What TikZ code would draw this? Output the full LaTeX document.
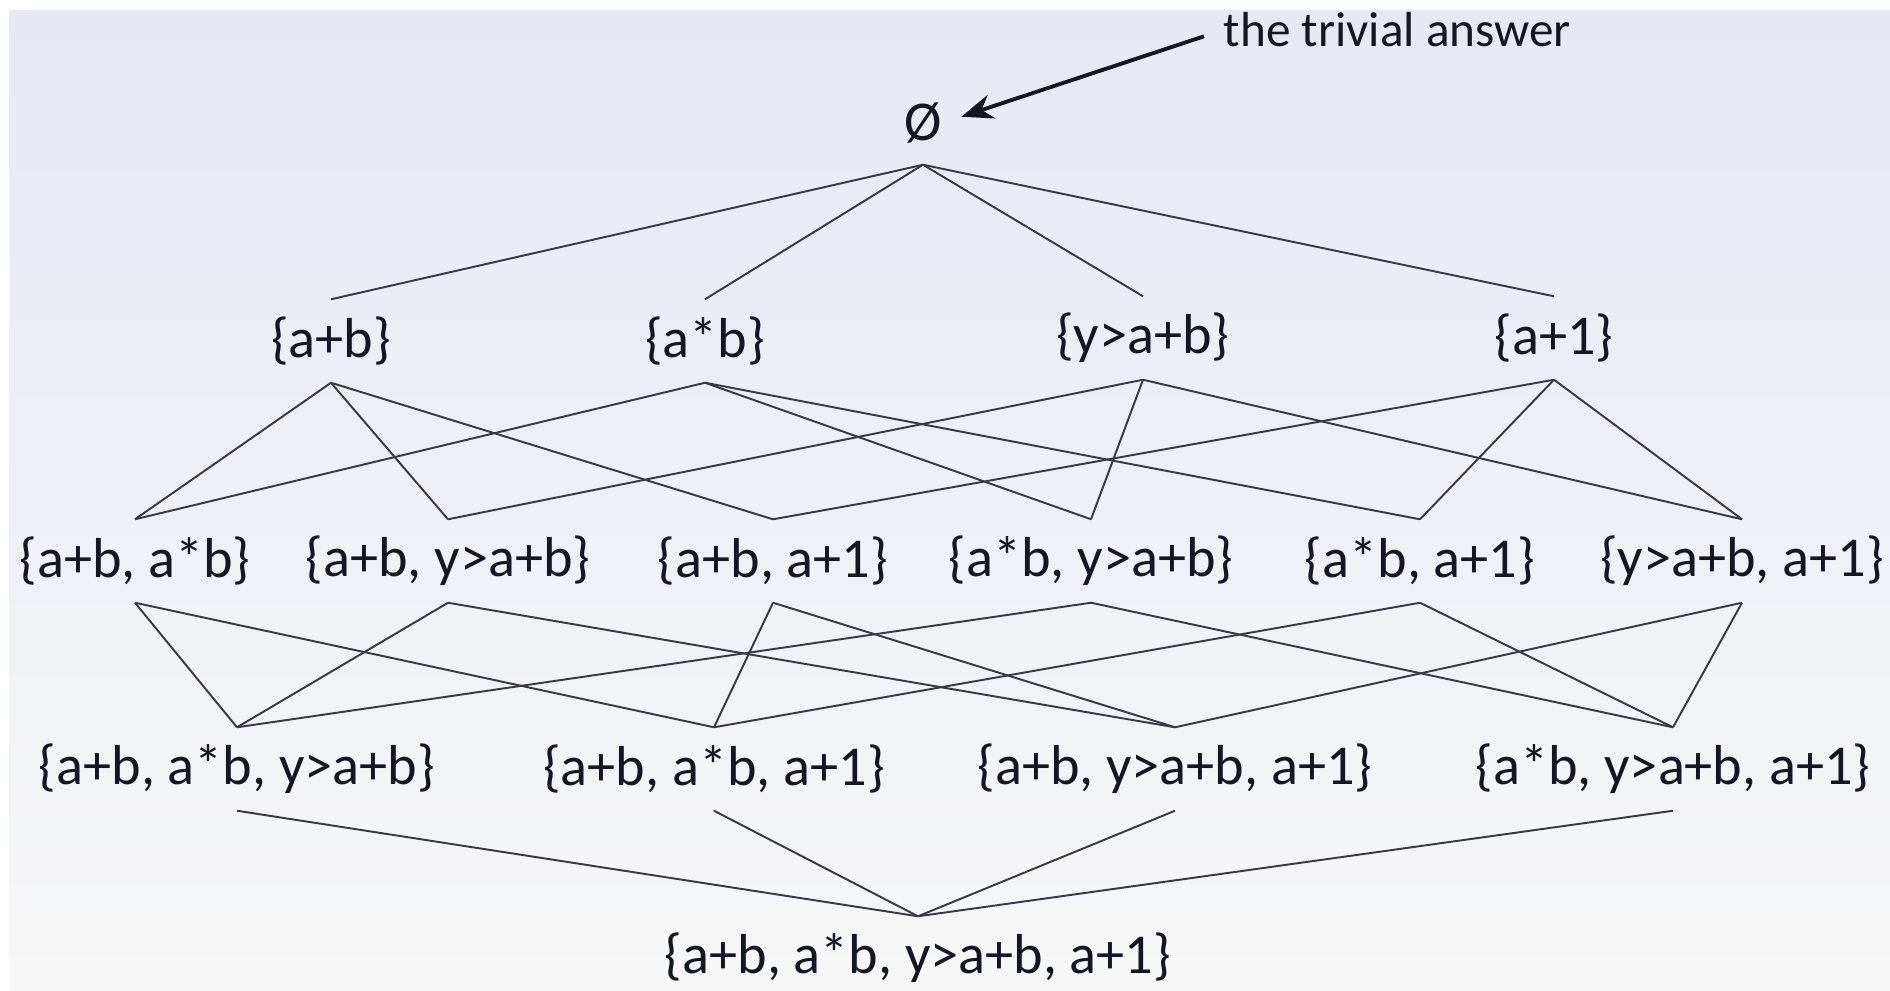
\documentclass[tikz,border=0pt]{standalone}
\usepackage{fontspec}
\setmainfont{Carlito}
\usetikzlibrary{arrows.meta}
\definecolor{bgtop}{RGB}{230,233,244}
\definecolor{bgmid}{RGB}{245,245,247}
\definecolor{bgbot}{RGB}{247,247,247}
\definecolor{ink}{RGB}{20,22,36}
\begin{document}
\begin{tikzpicture}[
	x=0.01cm, y=-0.01cm,
	s/.style = {inner sep=0, minimum height=0.82cm, text=ink, font=\fontsize{16}{18}\selectfont},
	e/.style = {draw=ink!85, line width=0.55pt},
	a/.style = {-{Stealth[length=9pt,width=7pt]}, draw=ink, line width=1.1pt, shorten <=0.2cm, shorten >=0.2cm}
	]
	
	%Background
	\useasboundingbox (0,0) rectangle (1890,990);
	\fill[white] (0,0) rectangle (1890,990);
	\shade[top color=bgtop, middle color=bgmid, bottom color=bgbot] (9,10) rectangle (1890,990);
	
	%Nodes
	\node[s]	(0)		at	(923, 123)	{Ø};
	\node[text=ink, inner sep=0, anchor=west, font=\fontsize{14}{16}\selectfont]	(ta)	at	(1223, 30)	{the trivial answer};
	
	\node[s]	(p)		at	(331, 341)	{\{a+b\}};
	\node[s]	(m)		at	(705, 341)	{\{a*b\}};
	\node[s]	(y)		at	(1143, 338)	{\{y>a+b\}};
	\node[s]	(o)		at	(1554, 338)	{\{a+1\}};
	
	\node[s]	(pm)	at	(135, 561)	{\{a+b, a*b\}};
	\node[s]	(py)	at	(448, 561)	{\{a+b, y>a+b\}};
	\node[s]	(po)	at	(773, 561)	{\{a+b, a+1\}};
	\node[s]	(my)	at	(1091, 561)	{\{a*b, y>a+b\}};
	\node[s]	(mo)	at	(1420, 561)	{\{a*b, a+1\}};
	\node[s]	(yo)	at	(1742, 561)	{\{y>a+b, a+1\}};
	
	\node[s]	(pmy)	at	(237, 769)	{\{a+b, a*b, y>a+b\}};
	\node[s]	(pmo)	at	(714, 769)	{\{a+b, a*b, a+1\}};
	\node[s]	(pyo)	at	(1175, 769)	{\{a+b, y>a+b, a+1\}};
	\node[s]	(myo)	at	(1673, 769)	{\{a*b, y>a+b, a+1\}};
	
	\node[s]	(pmyo)	at	(918, 958)	{\{a+b, a*b, y>a+b, a+1\}};
	
	%Lines
	\draw[a]	(ta.west)	to	(0.east);
	
	\draw[e]	(0.south)	--	(p.north);
	\draw[e]	(0.south)	--	(m.north);
	\draw[e]	(0.south)	--	(y.north);
	\draw[e]	(0.south)	--	(o.north);
	
	\draw[e]	(p.south)	--	(pm.north);
	\draw[e]	(p.south)	--	(py.north);
	\draw[e]	(p.south)	--	(po.north);
	\draw[e]	(m.south)	--	(pm.north);
	\draw[e]	(m.south)	--	(my.north);
	\draw[e]	(m.south)	--	(mo.north);
	\draw[e]	(y.south)	--	(py.north);
	\draw[e]	(y.south)	--	(my.north);
	\draw[e]	(y.south)	--	(yo.north);
	\draw[e]	(o.south)	--	(po.north);
	\draw[e]	(o.south)	--	(mo.north);
	\draw[e]	(o.south)	--	(yo.north);
	
	\draw[e]	(pm.south)	--	(pmy.north);
	\draw[e]	(pm.south)	--	(pmo.north);
	\draw[e]	(py.south)	--	(pmy.north);
	\draw[e]	(py.south)	--	(pyo.north);
	\draw[e]	(po.south)	--	(pmo.north);
	\draw[e]	(po.south)	--	(pyo.north);
	\draw[e]	(my.south)	--	(pmy.north);
	\draw[e]	(my.south)	--	(myo.north);
	\draw[e]	(mo.south)	--	(pmo.north);
	\draw[e]	(mo.south)	--	(myo.north);
	\draw[e]	(yo.south)	--	(pyo.north);
	\draw[e]	(yo.south)	--	(myo.north);
	
	\draw[e]	(pmy.south)	--	(pmyo.north);
	\draw[e]	(pmo.south)	--	(pmyo.north);
	\draw[e]	(pyo.south)	--	(pmyo.north);
	\draw[e]	(myo.south)	--	(pmyo.north);
\end{tikzpicture}
\end{document}
